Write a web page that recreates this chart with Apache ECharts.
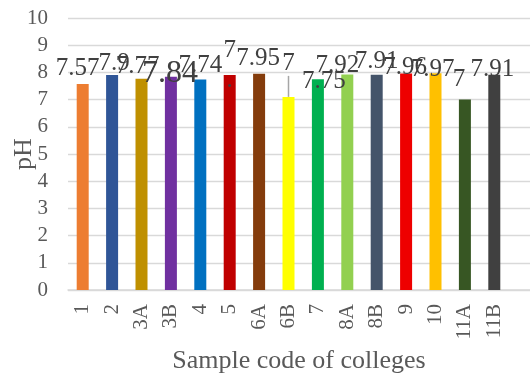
<!DOCTYPE html>
<html><head><meta charset="utf-8">
<script src="https://cdn.jsdelivr.net/npm/echarts@6/dist/echarts.min.js"></script>
<style>html,body{margin:0;padding:0;background:#fff}#c{width:530px;height:374px}</style>
</head><body><div id="c"></div>
<script>
const categories = ['1','2','3A','3B','4','5','6A','6B','7','8A','8B','9','10','11A','11B'];
const phValues = [7.57,7.9,7.77,7.84,7.74,7.9,7.95,7.1,7.75,7.92,7.91,7.96,7.97,7.0,7.91];
const barColors = ['#ED7D31','#2F5597','#BF9000','#7030A0','#0070C0','#C00000','#843C0C','#FFFF00','#00B050','#92D050','#44546A','#EE0000','#FFC000','#375623','#404040'];
const labelTexts = ['7.57','7.9','7.77','7.84','7.74','7\n.','7.95','7','7.75','7.92','7.91','7.96','7.97','7','7.91'];
const yTicks = [0,1,2,3,4,5,6,7,8,9,10];

const FONT = 'Liberation Serif';
// nudges [dx, dy] to mimic the reference's hand-placed data labels
const labelNudges = [[-5,2],[2,6],[-4,5],[-1,18],[0,3],[0,20],[-1,2],[0,-16],[6,20],[-10,8],[0,4],[-1,11],[-3,14],[-6,-3],[-2,12]];

const data = phValues.map((v,i)=>{
  const lab = {formatter: labelTexts[i]};
  if (i===3) { lab.fontSize = 32; }
  if (i===5) { lab.distance = 0; lab.lineHeight = 30; }
  return {value:v, itemStyle:{color:barColors[i]}, label:lab, labelLine:{show:i===7}};
});

const chart = echarts.init(document.getElementById('c'));
chart.setOption({
  animation:false,
  grid:[
    {left:68,right:0,top:18,bottom:84,outerBoundsMode:'none'},
    {left:68,right:21,top:18,bottom:84,outerBoundsMode:'none'}
  ],
  xAxis:[
    {gridIndex:0,type:'value',min:0,max:1,axisLabel:{show:false},axisTick:{show:false},splitLine:{show:false},
     axisLine:{show:true,lineStyle:{color:'#d9d9d9',width:1.5}},
     name:'Sample code of colleges',nameLocation:'middle',nameGap:58,nameMoveOverlap:false,
     nameTextStyle:{fontFamily:FONT,fontSize:26,color:'#595959'}},
    {gridIndex:1,type:'category',data:categories,axisLine:{show:false},axisTick:{show:false},
     axisLabel:{rotate:90,fontFamily:FONT,fontSize:21,color:'#595959',margin:14}}
  ],
  yAxis:[
    {gridIndex:0,type:'value',min:0,max:10,interval:1,
     axisLabel:{fontFamily:FONT,fontSize:21,color:'#595959',margin:20,formatter:v=>yTicks.includes(v)?String(v):''},
     axisLine:{show:false},axisTick:{show:false},
     splitLine:{show:true,lineStyle:{color:'#d9d9d9',width:1.3}},
     name:'pH',nameLocation:'middle',nameGap:31,nameRotate:90,nameMoveOverlap:false,
     nameTextStyle:{fontFamily:FONT,fontSize:26,color:'#595959'}},
    {gridIndex:1,type:'value',min:0,max:10,interval:1,show:false,splitLine:{show:false}}
  ],
  series:[{
    type:'bar',xAxisIndex:1,yAxisIndex:1,barWidth:12,
    data:data,
    label:{show:true,position:'top',distance:5,fontFamily:FONT,fontSize:25,color:'#404040'},
    labelLayout:function(p){ const n = labelNudges[p.dataIndex]; return {dx:n[0], dy:n[1]}; },
    labelLine:{show:false,lineStyle:{color:'#a6a6a6',width:1.5}}
  }]
});
</script></body></html>
